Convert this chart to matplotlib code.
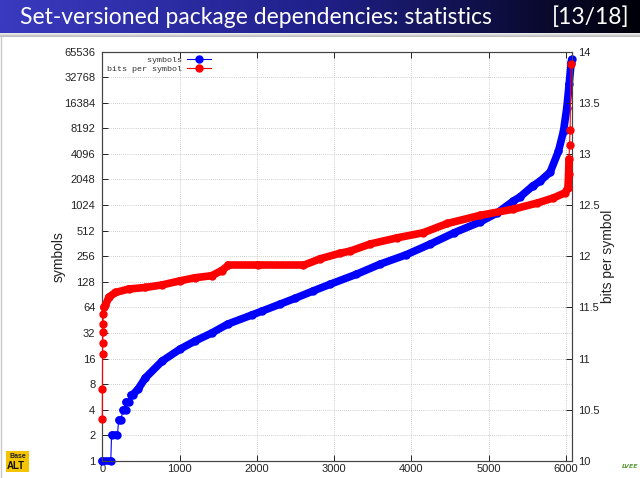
import numpy as np
import matplotlib
matplotlib.use("Agg")
import matplotlib.pyplot as plt
from matplotlib.lines import Line2D
from matplotlib.patches import Rectangle
from matplotlib.colors import LinearSegmentedColormap
from matplotlib.ticker import FixedLocator, FixedFormatter, NullLocator

# ---------------- data ----------------
title = "Set-versioned package dependencies: statistics"
page = "[13/18]"
left_label = "symbols"
right_label = "bits per symbol"
legend_labels = ["symbols", "bits per symbol"]

x_ticks = [0, 1000, 2000, 3000, 4000, 5000, 6000]
left_ticks = [1, 2, 4, 8, 16, 32, 64, 128, 256, 512, 1024, 2048, 4096,
              8192, 16384, 32768, 65536]
right_ticks = [10, 10.5, 11, 11.5, 12, 12.5, 13, 13.5, 14]

blue_x = [0, 111, 121, 197, 212, 237, 272, 302, 313, 353,
          378, 393, 464, 558, 776, 1007, 1201, 1416, 1625, 1931,
          2068, 2300, 2495, 2728, 2948, 3287, 3596, 3925, 4243, 4553,
          4890, 5111, 5317, 5405, 5567, 5664, 5794, 5901, 5966, 6009,
          6039, 6065, 6072]
blue_y = [1, 1, 2, 2, 3, 3, 4, 4, 5, 5,
          6, 6, 7, 9.5, 15, 20.7, 25.8, 32, 40.8, 52,
          58, 70, 82, 100, 120, 157, 207, 265, 356, 484,
          650, 831, 1142, 1280, 1712, 1960, 2500, 4400, 7600, 14300,
          27000, 48000, 52900]

red_x = [1, 3, 5, 7, 9, 11, 13, 20, 42, 86,
         171, 343, 558, 776, 1007, 1201, 1416, 1545, 1630, 2020,
         2598, 2818, 3078, 3207, 3467, 3815, 4153, 4463, 4890, 5317,
         5628, 5835, 5987, 6024, 6032, 6037, 6044, 6051, 6064]
red_y = [10.41, 10.70, 11.05, 11.15, 11.26, 11.34, 11.44, 11.50, 11.52, 11.60,
         11.646, 11.68, 11.695, 11.72, 11.76, 11.79, 11.81, 11.86, 11.91, 11.91,
         11.91, 11.975, 12.03, 12.05, 12.12, 12.18, 12.23, 12.32, 12.40, 12.46,
         12.52, 12.57, 12.62, 12.67, 12.80, 12.95, 13.09, 13.23, 13.88]

# ---------------- style ----------------
BLUE = "#0000ff"
RED = "#ff0000"
TICK_FONT = "Liberation Sans"
W, H = 640, 478

fig = plt.figure(figsize=(W / 100, H / 100), dpi=100)

# header bar
hdr_h = 33
hax = fig.add_axes([0, 1 - hdr_h / H, 1, hdr_h / H])
cmap = LinearSegmentedColormap.from_list("hdr", ["#3a3ac0", "#20208a", "#000008"])
hax.imshow(np.linspace(0, 1, 512)[None, :], aspect="auto", cmap=cmap,
           extent=[0, 1, 0, 1])
hax.set_xlim(0, 1)
hax.set_ylim(0, 1)
hax.axis("off")
hax.text(20 / W, 0.47, title, color="white", fontsize=16.5, family="Lato",
         va="center", ha="left")
hax.text(630 / W, 0.47, page, color="white", fontsize=16.5, family="Lato",
         va="center", ha="right")
# shadow under header
sax = fig.add_axes([0, 1 - (hdr_h + 4) / H, 1, 4 / H])
sax.imshow(np.linspace(0, 1, 16)[:, None], aspect="auto",
           cmap=LinearSegmentedColormap.from_list("sh", ["#ffffff", "#b8b8b8"]),
           extent=[0, 1, 0, 1])
sax.axis("off")

# main axes
L, R, B, T = 102.2, 571.7, 461.0, 51.5
ax = fig.add_axes([L / W, 1 - B / H, (R - L) / W, (B - T) / H])
ax.set_yscale("log", base=2)
ax.set_xlim(0, max(blue_x))
ax.set_ylim(left_ticks[0], left_ticks[-1])
ax.xaxis.set_major_locator(FixedLocator(x_ticks))
ax.xaxis.set_major_formatter(FixedFormatter([str(v) for v in x_ticks]))
ax.yaxis.set_major_locator(FixedLocator(left_ticks))
ax.yaxis.set_major_formatter(FixedFormatter([str(v) for v in left_ticks]))
ax.yaxis.set_minor_locator(NullLocator())
ax.xaxis.set_minor_locator(NullLocator())
ax.grid(True, color="#bdbdbd", linestyle=(0, (1, 1.5)), linewidth=0.6)
ax.set_axisbelow(True)
ax.tick_params(axis="both", direction="in", length=4, width=0.7,
               labelsize=8, colors="#222222", top=True, right=False)
ax.tick_params(axis="x", pad=2)
ax.tick_params(axis="y", pad=5)
for s in ax.spines.values():
    s.set_color("#444444")
    s.set_linewidth(0.8)
for lab in ax.get_xticklabels() + ax.get_yticklabels():
    lab.set_family(TICK_FONT)
ax.set_ylabel(left_label, fontsize=10, family=TICK_FONT, labelpad=-1,
              color="#222222")

ax2 = ax.twinx()
ax2.set_ylim(right_ticks[0], right_ticks[-1])
ax2.yaxis.set_major_locator(FixedLocator(right_ticks))
ax2.yaxis.set_major_formatter(FixedFormatter([f"{v:g}" for v in right_ticks]))
ax2.tick_params(axis="y", direction="in", length=4, width=0.7, labelsize=8,
                colors="#222222", pad=4.5)
for lab in ax2.get_yticklabels():
    lab.set_family(TICK_FONT)
for s in ax2.spines.values():
    s.set_color("#444444")
    s.set_linewidth(0.8)
ax2.set_ylabel(right_label, fontsize=10, family=TICK_FONT, labelpad=1,
               color="#222222")

BAND_LW = 5.5
MS = 5.0


def draw_series(axis, xs, ys, color, thick_mask):
    xs = np.asarray(xs, float)
    ys = np.asarray(ys, float)
    axis.plot(xs, ys, color=color, lw=0.8, clip_on=False, zorder=3)
    for i in range(len(xs) - 1):
        if thick_mask[i]:
            axis.plot(xs[i:i + 2], ys[i:i + 2], color=color, lw=BAND_LW,
                      solid_capstyle="round", clip_on=False, zorder=3)
    axis.plot(xs, ys, linestyle="none", marker="o", ms=MS, color=color,
              mec=color, clip_on=False, zorder=4)


bx = np.asarray(blue_x, float)
by = np.asarray(blue_y, float)
blue_thick = [(by[i] == by[i + 1]) or (bx[i] >= 390) for i in range(len(bx) - 1)]
draw_series(ax, bx, by, BLUE, blue_thick)

rx = np.asarray(red_x, float)
ry = np.asarray(red_y, float)
red_thick = [(rx[i] >= 20) and (rx[i + 1] <= 6037) for i in range(len(rx) - 1)]
draw_series(ax2, rx, ry, RED, red_thick)

# legend (gnuplot style: right-aligned labels, sample to the right)
width = max(len(s) for s in legend_labels)
handles = [Line2D([0], [0], color=BLUE, lw=0.8, marker="o", ms=5),
           Line2D([0], [0], color=RED, lw=0.8, marker="o", ms=5)]
leg = ax2.legend(handles, [s.rjust(width) for s in legend_labels],
                 loc="upper left", bbox_to_anchor=(0.010, 0.988),
                 markerfirst=False, frameon=False, numpoints=1,
                 prop={"family": "Liberation Mono", "size": 6},
                 handlelength=2.9, handletextpad=0.6, labelspacing=0.15,
                 borderpad=0, borderaxespad=0)
for t in leg.get_texts():
    t.set_color("#333333")

# logos (approximate)
lax = fig.add_axes([0, 0, 1, 1], zorder=-1)
lax.set_xlim(0, W)
lax.set_ylim(H, 0)
lax.axis("off")
lax.add_patch(Rectangle((6, 451), 23, 21, facecolor="#f5c400", edgecolor="none"))
lax.text(17.5, 456, "Base", fontsize=5, ha="center", va="center",
         family="Liberation Sans", fontweight="bold", color="#222222")
lax.text(16, 466, "ALT", fontsize=7, ha="center", va="center",
         family="Liberation Sans", fontweight="bold", color="#111111")
lax.text(630, 467, "LVEE", fontsize=4.5, ha="center", va="center",
         color="#5a9a3a", style="italic", fontweight="bold")
lax.plot([0.5, 0.5], [hdr_h + 4, H], color="#c8c8c8", lw=1)

fig.savefig("out.png", dpi=100)
